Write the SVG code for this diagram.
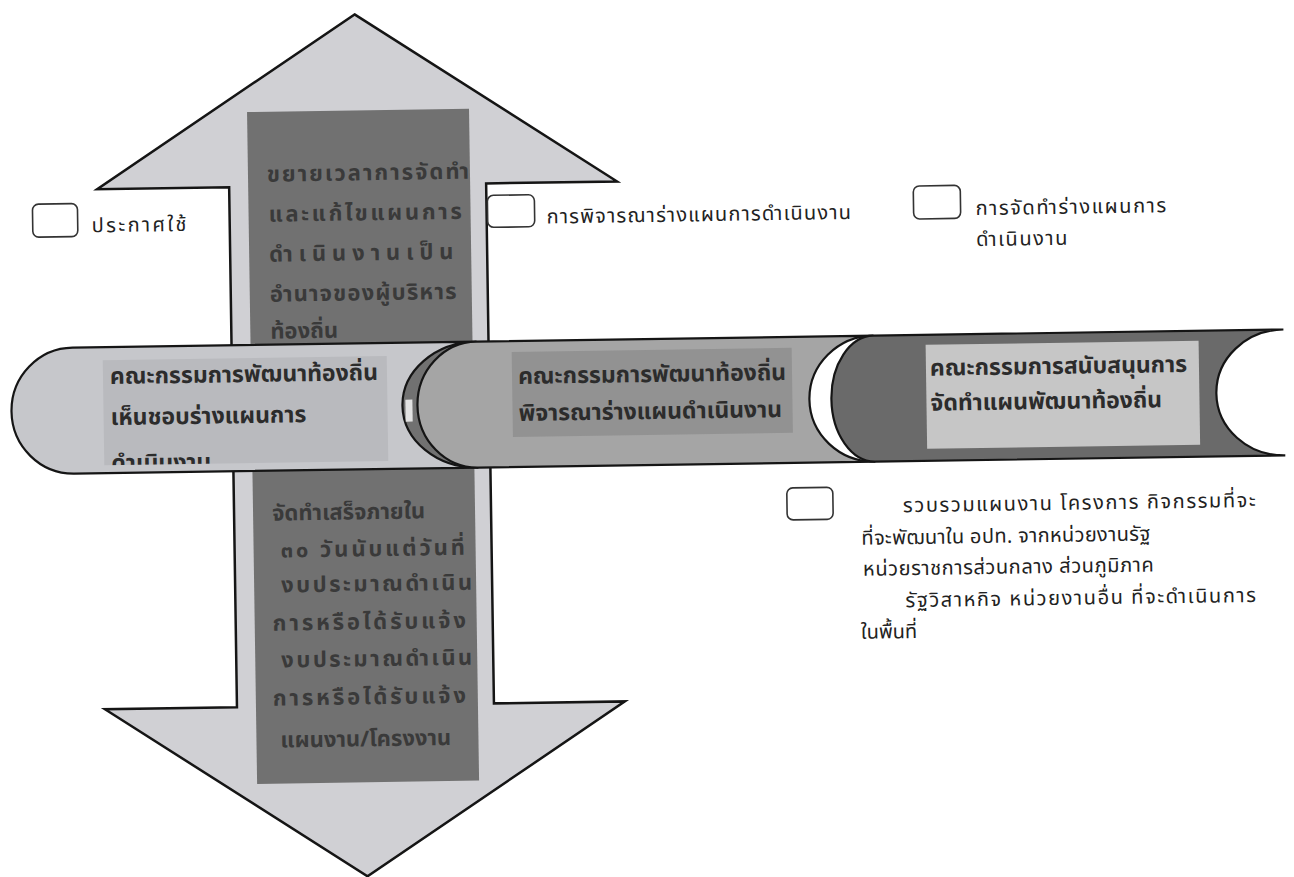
<svg xmlns="http://www.w3.org/2000/svg" width="1294" height="877" viewBox="0 0 1294 877">
<defs>
<style>
.lbl{font-family:Tahoma,"Noto Sans Thai","Noto Sans","DejaVu Sans",sans-serif;font-size:20px;fill:#222}
.bt{font-family:Tahoma,"Noto Sans Thai","Noto Sans","DejaVu Sans",sans-serif;font-size:23px;font-weight:bold;fill:#2c2c2c}
.at{font-family:Tahoma,"Noto Sans Thai","Noto Sans","DejaVu Sans",sans-serif;font-size:22px;font-weight:bold;fill:#3a3a3a}
.cb{fill:#fff;stroke:#333;stroke-width:1.6}
.seg{stroke:#151515;stroke-width:2.2}
</style>
<clipPath id="clipL"><rect x="104" y="352" width="284" height="105"/></clipPath>
</defs>
<rect width="1294" height="877" fill="#fff"/>
<g transform="rotate(-0.86 650 440)">
<g id="arrow">
<path d="M361 10 L621 181 L490 181 L490 701 L621 701 L361 872 L101 701 L233 701 L233 181 L101 181 Z" fill="#d0d0d4" stroke="#151515" stroke-width="2.5" stroke-linejoin="miter"/>
<rect x="252" y="106" width="222" height="672" fill="#717171"/>
<text class="at" x="271" y="176" letter-spacing="2.0">ขยายเวลาการจัดทำ</text>
<text class="at" x="272" y="216" letter-spacing="2.7">และแก้ไขแผนการ</text>
<text class="at" x="272" y="256" letter-spacing="5.9">ดำเนินงานเป็น</text>
<text class="at" x="272" y="296" letter-spacing="1.2">อำนาจของผู้บริหาร</text>
<text class="at" x="272" y="333">ท้องถิ่น</text>
<text class="at" x="271" y="515">จัดทำเสร็จภายใน</text>
<text class="at" x="279" y="552" letter-spacing="2.9">๓๐ วันนับแต่วันที่</text>
<text class="at" x="279" y="587" letter-spacing="2.5">งบประมาณดำเนิน</text>
<text class="at" x="270" y="625" letter-spacing="2.9">การหรือได้รับแจ้ง</text>
<text class="at" x="278" y="662" letter-spacing="2.5">งบประมาณดำเนิน</text>
<text class="at" x="269" y="700" letter-spacing="2.9">การหรือได้รับแจ้ง</text>
<text class="at" x="276" y="742">แผนงาน/โครงงาน</text>
</g>
<g id="seg-left">
<path class="seg" d="M74 339 L478 339 A75 63 0 0 0 478 465 L74 465 A62 63 0 0 1 74 339 Z" fill="#c6c7cb"/>
<rect x="104" y="352" width="284" height="105" fill="#b9babe"/>
<g clip-path="url(#clipL)">
<text class="bt" x="111" y="376">คณะกรรมการพัฒนาท้องถิ่น</text>
<text class="bt" x="111" y="417">เห็นชอบร่างแผนการ</text>
<text class="bt" x="111" y="463">ดำเนินงาน</text>
</g>
<rect x="406" y="396" width="7" height="22" fill="#e2e2e2"/>
</g>
<g id="seg-middle">
<path class="seg" d="M478 339 L875 339 A65 63 0 0 0 875 465 L478 465 A60 63 0 0 1 478 339 Z" fill="#a5a5a5"/>
<rect x="513" y="350" width="280" height="85" fill="#929292"/>
<text class="bt" x="519" y="382">คณะกรรมการพัฒนาท้องถิ่น</text>
<text class="bt" x="519" y="419">พิจารณาร่างแผนดำเนินงาน</text>
</g>
<g id="seg-right">
<path class="seg" d="M875 339 L1285 339 A68 63 0 0 0 1285 465 L875 465 A43 63 0 0 1 875 339 Z" fill="#6a6a6a"/>
<rect x="927" y="349" width="273" height="104" fill="#c6c6c6"/>
<text class="bt" x="931" y="380">คณะกรรมการสนับสนุนการ</text>
<text class="bt" x="931" y="415">จัดทำแผนพัฒนาท้องถิ่น</text>
</g>
<g id="step-announce">
<rect class="cb" x="36" y="195" width="45" height="33" rx="6"/>
<text class="lbl" x="95" y="224" letter-spacing="2.4">ประกาศใช้</text>
</g>
<g id="step-consider">
<rect class="cb" x="491" y="193" width="47" height="32" rx="6"/>
<text class="lbl" x="550" y="222" letter-spacing="1.2">การพิจารณาร่างแผนการดำเนินงาน</text>
</g>
<g id="step-draft">
<rect class="cb" x="917" y="190" width="47" height="33" rx="6"/>
<text class="lbl" x="979" y="220" letter-spacing="1.6">การจัดทำร่างแผนการ</text>
<text class="lbl" x="979" y="251" letter-spacing="1.6">ดำเนินงาน</text>
</g>
<g id="step-collect">
<rect class="cb" x="786" y="490" width="46" height="32" rx="6"/>
<text class="lbl" x="902" y="516" letter-spacing="1.6">รวบรวมแผนงาน โครงการ กิจกรรมที่จะ</text>
<text class="lbl" x="860" y="548" letter-spacing="0.35">ที่จะพัฒนาใน อปท. จากหน่วยงานรัฐ</text>
<text class="lbl" x="861" y="579" letter-spacing="0.6">หน่วยราชการส่วนกลาง ส่วนภูมิภาค</text>
<text class="lbl" x="903" y="611" letter-spacing="1.6">รัฐวิสาหกิจ หน่วยงานอื่น ที่จะดำเนินการ</text>
<text class="lbl" x="858" y="642">ในพื้นที่</text>
</g>
<g id="connectors"></g>
</g>
</svg>
